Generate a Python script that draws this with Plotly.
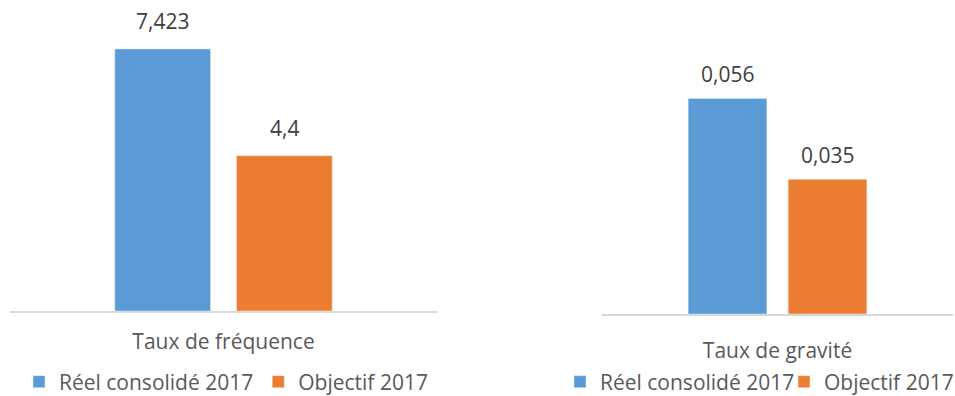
import plotly.graph_objects as go

series_names = ["Réel consolidé 2017", "Objectif 2017"]
colors = ["#5B9BD5", "#ED7D31"]
cat_left = ["Taux de fréquence"]
cat_right = ["Taux de gravité"]
left_values = [7.423, 4.4]
right_values = [0.056, 0.035]

def fmt(v):
    return str(v).replace(".", ",")

FONT = "Open Sans"
TXT = "#595959"
FS = 21

fig = go.Figure()
for i, name in enumerate(series_names):
    fig.add_trace(go.Bar(
        x=cat_left, y=[left_values[i]], name=name, marker_color=colors[i],
        offsetgroup=str(i), xaxis="x", yaxis="y", legend="legend",
    ))
for i, name in enumerate(series_names):
    fig.add_trace(go.Bar(
        x=cat_right, y=[right_values[i]], name=name, marker_color=colors[i],
        offsetgroup=str(i), xaxis="x2", yaxis="y2", legend="legend2",
    ))

# value labels placed over each bar of the group
annotations = []
for i, v in enumerate(left_values):
    annotations.append(dict(x=cat_left[0], y=v, xref="x", yref="y", text=fmt(v), showarrow=False,
                            xshift=(-61 if i == 0 else 61), yshift=28, yanchor="middle",
                            font=dict(family=FONT, size=FS, color="#404040")))
for i, v in enumerate(right_values):
    annotations.append(dict(x=cat_right[0], y=v, xref="x2", yref="y2", text=fmt(v), showarrow=False,
                            xshift=(-50 if i == 0 else 50), yshift=24, yanchor="middle",
                            font=dict(family=FONT, size=FS, color="#404040")))

W, H = 955, 396
axis_common = dict(showgrid=False, zeroline=False, showline=True, linecolor="#D9D9D9",
                   linewidth=1.5, ticks="outside", tickcolor="rgba(0,0,0,0)",
                   tickfont=dict(family=FONT, size=FS, color=TXT), fixedrange=True)

fig.update_layout(
    width=W, height=H, margin=dict(l=0, r=0, t=0, b=0, autoexpand=False),
    paper_bgcolor="white", plot_bgcolor="white",
    bargap=0.43, bargroupgap=0.213, barmode="group",
    font=dict(family=FONT, color=TXT),
    annotations=annotations,
    xaxis=dict(domain=[10 / W, 437 / W], anchor="y", ticklen=11, **axis_common),
    xaxis2=dict(domain=[602 / W, 953 / W], anchor="y2", ticklen=17, **axis_common),
    yaxis=dict(domain=[(H - 311) / H, (H - 28.6) / H], range=[0, 8], visible=False, anchor="x"),
    yaxis2=dict(domain=[(H - 314) / H, (H - 83) / H], range=[0, 0.06], visible=False, anchor="x2"),
    legend=dict(orientation="h", x=19 / W, y=(H - 382) / H, xanchor="left", yanchor="middle",
                xref="container", yref="container",
                font=dict(family=FONT, size=FS, color=TXT), itemclick=False,
                bgcolor="rgba(0,0,0,0)", traceorder="normal"),
    legend2=dict(orientation="h", x=560 / W, y=(H - 382) / H, xanchor="left", yanchor="middle",
                 xref="container", yref="container", entrywidth=179, entrywidthmode="pixels",
                 font=dict(family=FONT, size=FS, color=TXT), itemclick=False,
                 bgcolor="rgba(0,0,0,0)", traceorder="normal"),
    showlegend=True,
)

fig.write_html("out.html", config={"displayModeBar": False},
               post_script="document.body.style.margin='0';")
